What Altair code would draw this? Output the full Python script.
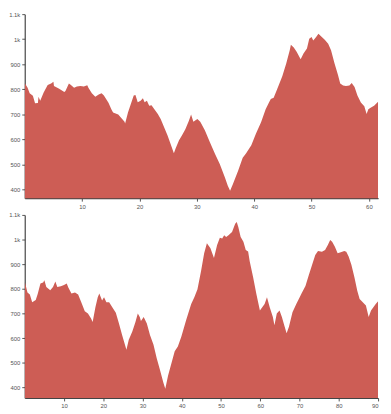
import altair as alt
import pandas as pd

top_km = [0.0, 0.5, 0.86, 1.42, 1.8, 2.3, 2.4, 2.7, 3.3, 4.0, 4.6, 5.0, 5.1, 6.0, 6.9, 7.1, 7.7, 8.0, 8.6, 9.1,
          9.7, 10.3, 10.9, 11.1, 11.7, 12.3, 12.9, 13.4, 13.8, 14.6, 15.1, 15.4, 16.3, 17.4, 17.5, 18.0, 18.6, 19.0,
          19.3, 19.7, 20.2, 20.6, 20.9, 21.3, 21.7, 22.1, 22.6, 23.2, 23.7, 24.3, 24.9, 25.4, 26.0, 26.3, 26.9,
          27.4, 28.0, 28.6, 29.0, 29.4, 30.1, 30.6, 31.4, 32.3, 33.2, 34.0, 34.9, 35.4, 35.8, 36.3, 37.2, 38.0,
          38.6, 39.5, 40.3, 41.2, 42.0, 42.6, 42.9, 43.4, 44.0, 44.9, 45.6, 46.2, 46.4, 46.9, 47.4, 48.1, 48.6,
          49.2, 49.6, 50.0, 50.3, 50.8, 51.2, 51.7, 52.3, 52.9, 53.4, 54.0, 54.6, 55.0, 55.5, 56.0, 56.6, 57.0,
          57.5, 58.0, 58.6, 59.2, 59.6, 59.9, 60.3, 60.9, 61.6]
top_elev = [825, 806, 784, 775, 745, 746, 771, 755, 787, 817, 823, 830, 813, 802, 789, 793, 823, 818, 806, 811,
            813, 811, 816, 806, 784, 771, 780, 784, 776, 747, 721, 708, 700, 671, 664, 708, 749, 776,
            778, 749, 755, 765, 749, 755, 735, 737, 721, 702, 682, 649, 616, 584, 545, 564, 597,
            616, 641, 674, 700, 671, 682, 671, 637, 588, 541, 502, 449, 416, 396, 423, 475, 527,
            545, 577, 623, 669, 721, 749, 762, 767, 800, 852, 904, 956, 978, 967, 950, 920, 943,
            963, 1002, 1009, 995, 1009, 1022, 1011, 998, 982, 956, 904, 858, 823, 815, 813, 815, 825,
            809, 776, 748, 733, 702, 721, 727, 735, 751]

bot_km = [0.0, 0.7, 1.3, 1.9, 2.8, 3.3, 4.0, 4.7, 5.0, 5.5, 6.5, 7.2, 7.8, 8.3, 9.2, 10.0, 10.7, 11.1, 11.9,
          12.8, 13.6, 14.4, 15.3, 16.1, 16.9, 17.3, 18.0, 18.6, 19.0, 19.7, 20.2, 20.8, 21.5, 22.3, 23.2, 24.0,
          24.8, 25.9, 26.5, 27.4, 28.2, 28.8, 29.3, 29.6, 30.3, 31.1, 31.9, 32.8, 33.6, 34.4, 35.3, 35.8, 36.5,
          37.4, 38.2, 39.0, 39.9, 41.1, 42.4, 43.2, 44.0, 44.9, 45.7, 46.4, 47.3, 48.2, 49.0, 49.7, 50.3, 50.8,
          51.3, 51.9, 52.8, 53.6, 54.0, 54.4, 55.0, 55.7, 56.3, 56.9, 57.3, 58.2, 59.0, 59.9, 60.5, 61.1, 61.7,
          62.4, 63.2, 63.6, 64.2, 64.9, 65.5, 66.1, 66.7, 67.3, 68.2, 69.2, 70.0, 70.5, 71.5, 72.4, 73.2, 74.0,
          74.7, 75.7, 76.5, 77.2, 77.8, 78.3, 79.0, 79.7, 80.5, 81.4, 81.9, 82.5, 83.2, 84.0, 84.7, 85.3, 86.1,
          86.9, 87.6, 88.2, 88.8, 89.4, 90.0]
bot_elev = [830, 786, 777, 746, 755, 779, 822, 826, 835, 808, 795, 808, 830, 808, 811, 816, 822, 806, 782,
            786, 777, 746, 710, 700, 680, 666, 726, 766, 782, 753, 766, 746, 746, 726, 703, 660,
            613, 554, 594, 627, 666, 700, 686, 670, 686, 660, 613, 574, 520, 474, 421, 395, 448,
            501, 547, 567, 607, 673, 739, 766, 799, 872, 945, 985, 965, 925, 978, 1007, 1004, 1018,
            1011, 1018, 1031, 1064, 1071, 1051, 1011, 991, 958, 952, 912, 845, 779, 713, 726, 739, 766,
            726, 686, 653, 700, 713, 686, 653, 620, 647, 706, 740, 765, 782, 812, 859, 898, 938,
            954, 951, 958, 978, 998, 991, 971, 945, 949, 954, 951, 931, 898, 845, 793, 759, 746,
            733, 686, 713, 726, 739, 750]

y_ticks = [400, 500, 600, 700, 800, 900, 1000, 1100]
top_x_ticks = [10, 20, 30, 40, 50, 60]
bot_x_ticks = [10, 20, 30, 40, 50, 60, 70, 80, 90]

FILL = "#cd5d55"
Y_LABELS = "datum.value >= 1000 ? (datum.value / 1000) + 'k' : '' + datum.value"


def panel(km, elev, xmax, ymin, xticks, w, h):
    df = pd.DataFrame({"km": km, "elev": elev})
    return alt.Chart(df).mark_area(color=FILL, clip=True, interpolate="linear").encode(
        x=alt.X("km:Q", scale=alt.Scale(domain=[0, xmax], nice=False, zero=False),
                axis=alt.Axis(values=xticks, title=None)),
        y=alt.Y("elev:Q", scale=alt.Scale(domain=[ymin, 1100], nice=False, zero=False),
                axis=alt.Axis(values=y_ticks, labelExpr=Y_LABELS, title=None)),
    ).properties(width=w, height=h)


top = panel(top_km, top_elev, 61.6, 366, top_x_ticks, 359, 187)
bot = panel(bot_km, bot_elev, 90, 358, bot_x_ticks, 359, 186)

chart = alt.vconcat(top, bot, spacing=17, bounds="flush").properties(
    padding={"left": 0, "top": 0, "right": 4, "bottom": 0}
).configure_view(stroke=None).configure_axis(
    grid=False,
    labelFontSize=6,
    labelFont="Liberation Sans",
    labelColor="#555555",
    tickSize=3,
    tickColor="#555555",
    domainColor="#444444",
    domainWidth=1.2,
    labelPadding=2,
)

chart.save("out.html", embed_options={"renderer": "svg", "actions": False})
